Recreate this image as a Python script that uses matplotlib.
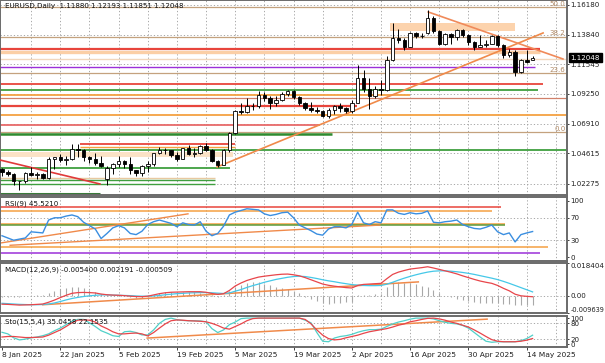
import numpy as np
import matplotlib.pyplot as plt
import matplotlib.transforms as mtransforms

# ---- data ----
# daily EURUSD candles, 8 Jan 2025 .. 15 May 2025 (bar index 0..91)
opens = [1.0342, 1.0318, 1.0300, 1.0244, 1.0245, 1.0307, 1.0290, 1.0300, 1.0272, 1.0415,
         1.0430, 1.0410, 1.0415, 1.0495, 1.0490, 1.0430, 1.0420, 1.0390, 1.0262, 1.0345,
         1.0380, 1.0403, 1.0380, 1.0330, 1.0306, 1.0362, 1.0380, 1.0465, 1.0490, 1.0485,
         1.0450, 1.0420, 1.0500, 1.0460, 1.0462, 1.0515, 1.0485, 1.0400, 1.0375, 1.0485,
         1.0620, 1.0790, 1.0785, 1.0833, 1.0830, 1.0918, 1.0888, 1.0855, 1.0880, 1.0922,
         1.0943, 1.0900, 1.0850, 1.0815, 1.0800, 1.0790, 1.0753, 1.0800, 1.0830, 1.0815,
         1.0790, 1.0852, 1.1050, 1.0960, 1.0910, 1.0960, 1.0950, 1.1190, 1.1357, 1.1345,
         1.1290, 1.1400, 1.1370, 1.1395, 1.1512, 1.1410, 1.1310, 1.1390, 1.1365, 1.1420,
         1.1380, 1.1330, 1.1290, 1.1300, 1.1315, 1.1370, 1.1300, 1.1225, 1.1250, 1.1090,
         1.1185, 1.1188]
highs = [1.0346, 1.0331, 1.0312, 1.0250, 1.0315, 1.0353, 1.0318, 1.0312, 1.0435, 1.0435,
         1.0453, 1.0440, 1.0532, 1.0534, 1.0494, 1.0445, 1.0465, 1.0440, 1.0360, 1.0387,
         1.0442, 1.0410, 1.0430, 1.0334, 1.0375, 1.0400, 1.0465, 1.0512, 1.0505, 1.0490,
         1.0470, 1.0505, 1.0528, 1.0500, 1.0525, 1.0545, 1.0495, 1.0410, 1.0495, 1.0630,
         1.0800, 1.0855, 1.0890, 1.0855, 1.0945, 1.0935, 1.0905, 1.0910, 1.0935, 1.0955,
         1.0950, 1.0905, 1.0860, 1.0860, 1.0820, 1.0800, 1.0815, 1.0835, 1.0855, 1.0820,
         1.0880, 1.1145, 1.1107, 1.1045, 1.0985, 1.1030, 1.1215, 1.1474, 1.1425, 1.1355,
         1.1405, 1.1405, 1.1395, 1.1573, 1.1530, 1.1420, 1.1395, 1.1395, 1.1425, 1.1425,
         1.1385, 1.1335, 1.1380, 1.1345, 1.1380, 1.1380, 1.1310, 1.1270, 1.1262, 1.1195,
         1.1265, 1.1219]
lows = [1.0282, 1.0282, 1.0215, 1.0178, 1.0230, 1.0282, 1.0265, 1.0266, 1.0265, 1.0340,
        1.0395, 1.0375, 1.0410, 1.0435, 1.0400, 1.0385, 1.0370, 1.0355, 1.0212, 1.0300,
        1.0358, 1.0350, 1.0300, 1.0284, 1.0287, 1.0315, 1.0365, 1.0455, 1.0460, 1.0430,
        1.0400, 1.0415, 1.0450, 1.0435, 1.0455, 1.0480, 1.0395, 1.0358, 1.0370, 1.0470,
        1.0610, 1.0770, 1.0775, 1.0800, 1.0815, 1.0870, 1.0810, 1.0830, 1.0865, 1.0905,
        1.0885, 1.0840, 1.0800, 1.0780, 1.0775, 1.0745, 1.0735, 1.0770, 1.0780, 1.0775,
        1.0775, 1.0850, 1.0935, 1.0810, 1.0890, 1.0915, 1.0945, 1.1180, 1.1320, 1.1265,
        1.1285, 1.1355, 1.1360, 1.1390, 1.1400, 1.1300, 1.1300, 1.1315, 1.1345, 1.1365,
        1.1300, 1.1265, 1.1290, 1.1285, 1.1310, 1.1290, 1.1205, 1.1210, 1.1065, 1.1085,
        1.1165, 1.1185]
closes = [1.0318, 1.0300, 1.0244, 1.0245, 1.0307, 1.0290, 1.0300, 1.0272, 1.0415, 1.0430,
          1.0410, 1.0415, 1.0495, 1.0490, 1.0430, 1.0420, 1.0390, 1.0362, 1.0345, 1.0380,
          1.0403, 1.0380, 1.0330, 1.0306, 1.0362, 1.0380, 1.0465, 1.0490, 1.0485, 1.0450,
          1.0420, 1.0500, 1.0460, 1.0462, 1.0515, 1.0485, 1.0400, 1.0375, 1.0485, 1.0620,
          1.0790, 1.0785, 1.0833, 1.0830, 1.0918, 1.0888, 1.0855, 1.0880, 1.0922, 1.0943,
          1.0900, 1.0850, 1.0815, 1.0800, 1.0790, 1.0753, 1.0800, 1.0830, 1.0815, 1.0790,
          1.0852, 1.1050, 1.0960, 1.0910, 1.0960, 1.0950, 1.1190, 1.1357, 1.1345, 1.1290,
          1.1400, 1.1370, 1.1375, 1.1512, 1.1410, 1.1310, 1.1390, 1.1365, 1.1420, 1.1380,
          1.1330, 1.1290, 1.1300, 1.1315, 1.1370, 1.1300, 1.1225, 1.1250, 1.1090, 1.1185,
          1.1175, 1.12048]

rsi = [38, 34, 30, 32, 34, 45, 44, 43, 66, 70, 70, 73, 75, 72, 62, 56, 50, 33, 42, 52,
       56, 52, 42, 40, 46, 58, 63, 66, 63, 60, 54, 61, 58, 57, 63, 46, 38, 42, 55, 75,
       80, 83, 86, 85, 84, 77, 74, 76, 79, 80, 70, 57, 52, 47, 41, 39, 50, 54, 54, 52,
       58, 80, 61, 58, 63, 61, 84, 84, 78, 76, 79, 77, 78, 82, 62, 61, 63, 64, 66, 58,
       54, 51, 50, 53, 57, 45, 40, 43, 27, 40, 43, 45.5]

# MACD lines and histogram, in units of 0.001
macd_red = [-4.7, -4.8, -5.0, -5.2, -5.1, -5.0, -4.8, -4.6, -3.6, -2.4, -1.0, 0.3, 1.4, 1.8,
            1.9, 1.8, 1.6, 1.0, 0.6, 0.4, 0.3, 0.1, -0.2, -0.4, -0.5, -0.2, 0.5, 1.2, 1.7,
            2.0, 2.1, 2.2, 2.3, 2.3, 2.3, 2.0, 1.3, 0.8, 1.2, 3.0, 5.5, 7.2, 8.6, 9.6, 10.5,
            11.0, 11.4, 11.8, 12.1, 12.2, 11.8, 11.2, 10.2, 9.0, 7.8, 6.6, 5.9, 5.4, 5.0,
            4.6, 4.4, 5.8, 6.4, 6.6, 6.8, 7.0, 9.6, 12.0, 13.3, 14.2, 15.0, 15.4, 15.8, 16.3,
            15.6, 14.8, 14.0, 13.2, 12.3, 11.2, 10.2, 9.2, 8.3, 7.6, 7.0, 5.8, 4.2, 2.8, 0.9,
            0.0, -0.3, -0.509]
macd_cyan = [-4.2, -4.4, -4.6, -4.8, -4.9, -5.0, -5.0, -4.9, -4.6, -4.0, -3.2, -2.3, -1.5,
             -0.9, -0.4, 0.0, 0.3, 0.5, 0.5, 0.4, 0.3, 0.2, 0.1, -0.1, -0.2, -0.2, -0.1, 0.2,
             0.6, 0.9, 1.2, 1.4, 1.6, 1.7, 1.8, 1.8, 1.7, 1.5, 1.3, 1.6, 2.6, 3.5, 4.7, 5.7,
             6.6, 7.6, 8.4, 9.2, 9.8, 10.4, 10.8, 11.0, 10.8, 10.3, 9.7, 9.0, 8.4, 7.9, 7.3,
             6.8, 6.3, 6.0, 5.8, 5.7, 5.7, 5.8, 6.5, 7.6, 8.8, 9.9, 10.9, 11.8, 12.6, 13.3,
             13.8, 14.0, 14.0, 13.8, 13.5, 13.1, 12.6, 12.0, 11.3, 10.6, 9.9, 9.1, 8.1, 7.0,
             5.8, 4.6, 3.4, 2.191]
macd_hist = [-0.4, -0.4, -0.5, -0.5, -0.3, 0.0, 0.3, 0.5, 1.6, 2.8, 3.8, 4.6, 5.0, 4.8, 4.2,
             3.4, 2.4, 1.0, 0.3, 0.1, 0.0, -0.3, -0.8, -1.2, -1.4, -0.8, 0.4, 1.4, 2.0, 2.4,
             2.4, 2.4, 2.2, 2.0, 1.8, 1.2, 0.2, -0.6, 0.2, 2.6, 4.8, 6.2, 7.2, 7.6, 7.5, 6.8,
             6.0, 5.2, 4.4, 3.6, 2.6, 1.4, -0.6, -2.0, -3.0, -3.8, -4.4, -4.2, -3.8, -3.6,
             -3.2, 0.2, 0.4, 0.6, 0.8, 1.0, 5.0, 7.6, 7.8, 7.4, 7.0, 6.4, 5.6, 5.0, 3.2, 1.6,
             -0.2, -0.8, -1.6, -2.4, -3.0, -3.6, -4.0, -4.0, -3.8, -4.2, -4.6, -4.8, -5.2,
             -5.4, -5.4, -5.4]

sto_main = [46, 40, 25, 17, 20, 25, 28, 33, 40, 52, 62, 75, 88, 95, 95, 82, 68, 52, 43, 33,
            30, 48, 50, 45, 36, 36, 55, 80, 95, 100, 94, 91, 90, 90, 89, 86, 60, 45, 55, 75,
            85, 98, 100, 100, 100, 100, 100, 100, 100, 100, 100, 100, 92, 82, 45, 12, 10, 24,
            30, 33, 38, 46, 52, 56, 56, 58, 68, 78, 85, 90, 96, 100, 100, 100, 97, 90, 84, 80,
            78, 72, 62, 45, 28, 12, 8, 10, 10, 10, 10, 14, 22, 35.0]
sto_signal = [28, 30, 30, 28, 26, 26, 27, 28, 35, 45, 55, 68, 82, 92, 93, 92, 85, 70, 60, 48,
              40, 40, 42, 43, 40, 32, 45, 62, 78, 90, 93, 92, 90, 89, 88, 86, 80, 72, 62, 58,
              68, 78, 90, 98, 100, 100, 100, 100, 100, 100, 100, 100, 95, 78, 55, 35, 22, 17,
              19, 25, 30, 35, 42, 48, 52, 56, 60, 66, 73, 78, 86, 90, 95, 99, 100, 97, 92, 85,
              80, 73, 66, 55, 43, 30, 18, 12, 10, 10, 10, 12, 16, 22.2]

date_labels = ["8 Jan 2025", "22 Jan 2025", "5 Feb 2025", "19 Feb 2025", "5 Mar 2025",
               "19 Mar 2025", "2 Apr 2025", "16 Apr 2025", "30 Apr 2025", "14 May 2025"]
price_ticks = [1.16180, 1.13840, 1.11545, 1.09250, 1.06910, 1.04615, 1.02275]
last_price = 1.12048

# horizontal support / resistance lines: level, first bar, last bar
hl_level = [1.12723, 1.1249, 1.11946, 1.11348, 1.10004, 1.09538, 1.0915, 1.08917, 1.08257,
            1.07596, 1.0682, 1.06097, 1.05305, 1.0511, 1.04916, 1.0348, 1.02702, 1.02547,
            1.02275, 1.0146]
hl_start = [-1, -1, -1, -1, -1, -1, -1, -1, -1, -1, -1, -1, 13.4, 13.4, -1, -1, -1, -1, -1, -1]
hl_end = [92.3, 92.3, 97, 91.4, 92.8, 91.9, 70, 97, 60.9, 97, 54.5, 56.6, 40, 40, 97, 39.1,
          36.5, 36.5, 36.5, 16.8]
hl_color = ['#e8453c', '#fbcfa6', '#f2d7bd', '#9b30d9', '#e8453c', '#3f9f3f', '#f5a142',
            '#d0806a', '#e8453c', '#f5a142', '#e86a6a', '#2e8b2e', '#e8453c', '#f5a142',
            '#3f9f3f', '#3f9f3f', '#e8c9a0', '#3f9f3f', '#3f9f3f', '#3a7a3a']
hl_width = [1.6, 2.4, 1.0, 1.0, 1.3, 1.3, 1.3, 0.9, 1.6, 1.3, 1.3, 1.8, 1.3, 1.0, 1.3, 1.3,
            1.0, 1.0, 1.0, 2.2]

# fibonacci retracement levels
fib_levels = [1.0628, 1.1086, 1.1369, 1.1599]
fib_names = ["0.0", "23.6", "38.2", "50.0"]

# trend lines: (bar, price) pairs
trend_up = ([36.9, 92.8], [1.0356, 1.1397])
trend_down = ([73.1, 96.2], [1.1560, 1.1195])
trend_red = ([-0.34, 16.8], [1.0410, 1.0224])
box_bars = ([66.6, 88.0], [1.1412, 1.1474])
band_bars = ([-1, 39.6], [1.04334, 1.04722])

rsi_levels = [90, 82, 59, 58, 18, 7]
rsi_level_end = [85.5, 84, 86.3, 86.3, 93.7, 92.3]
rsi_level_color = ['#e8453c', '#f5a142', '#f5a142', '#5a9a3a', '#f5a142', '#9b30d9']
rsi_tr1 = ([-0.3, 31.9], [25, 77])
rsi_tr2 = ([1.4, 64.8], [21, 57])
macd_tr = ([7.0, 71.4], [-5.0, 7.8])
sto_tr = ([24.9, 83.2], [24, 96])

# ---- layout (pixel boxes of the MT4 panes) ----
W, H = 605, 363
fig = plt.figure(figsize=(W / 100, H / 100), dpi=100)
fig.patch.set_facecolor('white')


def pane(y0, y1):
    return fig.add_axes([0, 1 - y1 / H, 567 / W, (y1 - y0) / H])


ax = pane(0, 195)
ax_rsi = pane(197, 261)
ax_macd = pane(263, 313)
ax_sto = pane(316, 347)
axes = [ax, ax_rsi, ax_macd, ax_sto]

n = len(closes)
x = np.arange(n)
xmin, xmax = -0.34, 96.9
FS = 5.1
grid_kw = dict(color='#9a9a9a', lw=0.6, ls=(0, (1.5, 2.5)))

for a in axes:
    a.set_xlim(xmin, xmax)
    for s in a.spines.values():
        s.set_color('#6a6a6a')
        s.set_linewidth(1.4)
    a.yaxis.tick_right()
    a.tick_params(axis='y', length=1.5, width=0.6, pad=1.0, labelsize=FS, colors='#202020')
    a.tick_params(axis='x', length=0, labelbottom=False)
    for gx in range(5, 97, 5):
        a.axvline(gx, zorder=0, **grid_kw)

# ---- main price pane ----
ax.set_ylim(1.01382, 1.16530)
ax.set_yticks(price_ticks)
ax.set_yticklabels([f"{p:.5f}" for p in price_ticks])
for p in price_ticks:
    ax.axhline(p, zorder=0, **grid_kw)

ax.fill_between(box_bars[0], box_bars[1][0], box_bars[1][1], color='#fcd3ad', lw=0, zorder=1)
ax.fill_between(band_bars[0], band_bars[1][0], band_bars[1][1], color='#fbe2c6', lw=0, zorder=1)

for lev in fib_levels:
    ax.axhline(lev, color='#c4a27e', lw=0.9, zorder=1)
for lev, name in zip(fib_levels, fib_names):
    ax.text(96.6, lev + 0.0002, name, fontsize=FS, color='#b08a66', ha='right', va='bottom',
            clip_on=False)

for lev, s, e, c, w in zip(hl_level, hl_start, hl_end, hl_color, hl_width):
    ax.hlines(lev, s, e, colors=c, linewidth=w, zorder=2)

ax.plot(*trend_up, color='#f08a4a', lw=1.2, zorder=3)
ax.plot(*trend_down, color='#f08a5a', lw=1.2, zorder=3)
ax.plot(*trend_red, color='#e03a3a', lw=1.2, zorder=3)

o = np.array(opens)
c = np.array(closes)
ax.vlines(x, lows, highs, color='black', lw=0.7, zorder=4)
body_lo = np.minimum(o, c)
body_h = np.abs(c - o)
ax.bar(x, body_h, bottom=body_lo, width=0.6,
       color=np.where(c >= o, 'white', 'black'), edgecolor='black', linewidth=0.6, zorder=5)

ax.text(0.008, 0.985, "EURUSD,Daily  1.11880 1.12193 1.11851 1.12048", transform=ax.transAxes,
        fontsize=FS, va='top', ha='left', color='#101010')
tr = mtransforms.blended_transform_factory(ax.transAxes, ax.transData)
ax.text(1.006, last_price, "1.12048", transform=tr, fontsize=FS, color='white', va='center',
        ha='left', clip_on=False, zorder=10,
        bbox=dict(boxstyle='square,pad=0.25', fc='black', ec='black'))

# ---- RSI ----
ax_rsi.set_ylim(-7, 107)
ax_rsi.set_yticks([0, 30, 70, 100])
ax_rsi.set_yticklabels(['0', '30', '70', '100'])
for lv in (30, 70):
    ax_rsi.axhline(lv, zorder=0, **grid_kw)
for lv, e, col in zip(rsi_levels, rsi_level_end, rsi_level_color):
    ax_rsi.hlines(lv, xmin, e, colors=col, lw=1.1, zorder=1)
ax_rsi.plot(*rsi_tr1, color='#f08a4a', lw=1.0, zorder=2)
ax_rsi.plot(*rsi_tr2, color='#f08a4a', lw=1.0, zorder=2)
ax_rsi.plot(x, rsi, color='#3a8ee0', lw=1.0, zorder=3)
ax_rsi.text(0.008, 0.95, "RSI(9) 45.5210", transform=ax_rsi.transAxes, fontsize=FS,
            va='top', ha='left', color='#101010')

# ---- MACD ----
mlo, mhi = -0.009639, 0.018404
ax_macd.set_ylim(mlo, mhi)
ax_macd.set_yticks([mhi, 0, mlo])
ax_macd.set_yticklabels(['0.018404', '0.00', '-0.009639'])
labs = ax_macd.get_yticklabels()
labs[0].set_va('top')
labs[2].set_va('bottom')
labs[2].set_fontsize(FS - 0.3)
ax_macd.axhline(0, zorder=0, **grid_kw)
ax_macd.vlines(x, 0, np.array(macd_hist) / 1000, color='#a8a8a8', lw=0.8, zorder=1)
ax_macd.plot(macd_tr[0], np.array(macd_tr[1]) / 1000, color='#f08a4a', lw=1.1, zorder=2)
ax_macd.plot(x, np.array(macd_cyan) / 1000, color='#45c8e8', lw=0.9, zorder=3)
ax_macd.plot(x, np.array(macd_red) / 1000, color='#e8454a', lw=0.9, zorder=3)
ax_macd.text(0.008, 0.93, "MACD(12,26,9) -0.005400 0.002191 -0.000509",
             transform=ax_macd.transAxes, fontsize=FS, va='top', ha='left', color='#101010')

# ---- Stochastic ----
ax_sto.set_ylim(-10, 108)
ax_sto.set_yticks([0, 20, 80, 100])
ax_sto.set_yticklabels(['0', '20', '80', '100'])
for lv in (20, 80):
    ax_sto.axhline(lv, zorder=0, **grid_kw)
ax_sto.plot(*sto_tr, color='#f08a4a', lw=1.1, zorder=2)
ax_sto.plot(x, sto_main, color='#50d0c8', lw=0.9, zorder=3)
ax_sto.plot(x, sto_signal, color='#e8454a', lw=0.9, zorder=3)
ax_sto.text(0.008, 0.93, "Sto(15,5,4) 35.0458 22.1535", transform=ax_sto.transAxes,
            fontsize=FS, va='top', ha='left', color='#101010')

# date axis under the last pane
ax_sto.set_xticks(range(0, 91, 10))
ax_sto.set_xticklabels(date_labels)
ax_sto.tick_params(axis='x', length=2, width=0.6, labelbottom=True, labelsize=FS + 0.3,
                   pad=1.5, colors='#202020')
for lab in ax_sto.get_xticklabels():
    lab.set_ha('left')

fig.savefig("out.png", dpi=100, facecolor='white')
